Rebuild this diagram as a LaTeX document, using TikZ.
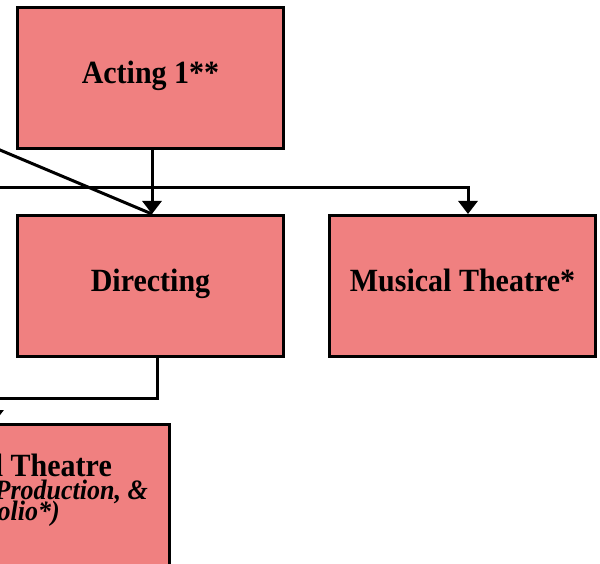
\documentclass[tikz,border=0pt]{standalone}
\usepackage{fontspec}
\setmainfont{Liberation Serif}
\usetikzlibrary{arrows.meta,calc}
\definecolor{boxfill}{HTML}{F08080}
\newcommand{\tallt}[1]{\scalebox{1}[1.08]{#1}}
\tikzset{
  box/.style={draw=black, line width=3pt, fill=boxfill, minimum width=266pt, minimum height=141pt, inner sep=0pt, text height=20pt, text depth=10pt, font=\fontsize{30}{30}\selectfont\bfseries},
  conn/.style={draw=black, line width=3pt},
  arr/.style={conn, -{Triangle[width=19pt,length=13pt]}},
  lbl/.style={inner sep=0pt, anchor=base east},
}
\begin{document}
\begin{tikzpicture}[x=1pt,y=-1pt]
\useasboundingbox (0,0) rectangle (600,564);
\clip (0,0) rectangle (600,564);
\node[box] (acting) at (150.5,78.5) {\tallt{Acting 1**}};
\node[box] (directing) at (150.5,286) {\tallt{Directing}};
\node[box] (musical) at (462.5,286) {\tallt{Musical Theatre*}};
\node[box] (tech) at (36.5,495) {};
\node[lbl, font=\fontsize{30}{30}\selectfont\bfseries] (t1) at (112,476) {\tallt{Technical Theatre}};
\node[lbl, font=\fontsize{26}{26}\selectfont\bfseries\itshape] (t2) at (148,499) {\tallt{(Design, Production, \&}};
\node[lbl, font=\fontsize{26}{26}\selectfont\bfseries\itshape] (t3) at (60,520) {\tallt{Portfolio*)}};
\coordinate (hl) at (-10,188);
\coordinate (dl) at (-20,141.6);
\coordinate (ax) at (152,0);
\coordinate (mx) at (468,0);
\coordinate (dx) at (157,0);
\coordinate (tx) at (-6,398);
\draw[conn] (dl) -- (ax |- directing.north);
\draw[arr] (ax |- acting.south) -- (ax |- directing.north);
\draw[arr] (hl) -| (mx |- musical.north);
\draw[arr] (dx |- directing.south) |- (tx) -- (tx |- tech.north);
\end{tikzpicture}
\end{document}
